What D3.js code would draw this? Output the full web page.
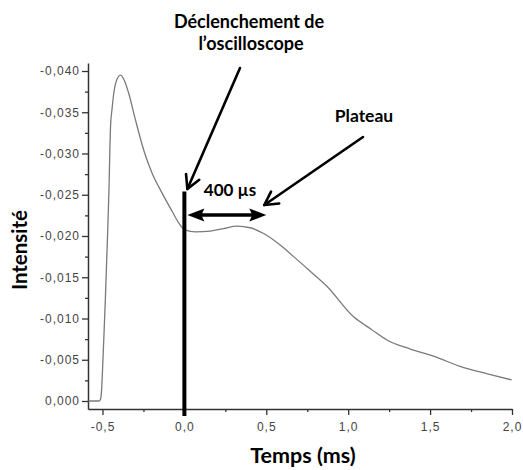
<!DOCTYPE html>
<html>
<head>
<meta charset="utf-8">
<script src="https://cdn.jsdelivr.net/npm/d3@7"></script>
<style>
  html, body { margin: 0; padding: 0; background: #fff; }
  svg { display: block; }
  .tick text { font-family: "Liberation Sans", Arial, sans-serif; }
</style>
</head>
<body>
<svg id="chart" width="523" height="470"></svg>
<script>
// ---- Data ----
const time = [-0.585, -0.52, -0.512, -0.505, -0.498, -0.49, -0.482, -0.468, -0.461, -0.451, -0.441, -0.431, -0.415, -0.39, -0.365, -0.34, -0.299, -0.248, -0.197, -0.136, -0.075, -0.035, 0.006, 0.067, 0.159, 0.24, 0.32, 0.402, 0.484, 0.585, 0.667, 0.77, 0.87, 1.033, 1.14, 1.236, 1.38, 1.52, 1.683, 1.85, 1.998];
const intensity = [0, 0, -0.0002, -0.0015, -0.0046, -0.0085, -0.0126, -0.0207, -0.0252, -0.0332, -0.0355, -0.0373, -0.0388, -0.0395, -0.0388, -0.0373, -0.0341, -0.0304, -0.0276, -0.0252, -0.0230, -0.0216, -0.0207, -0.0205, -0.0206, -0.0209, -0.0212, -0.0210, -0.0203, -0.0189, -0.0175, -0.0157, -0.0139, -0.0102, -0.0087, -0.0074, -0.0063, -0.00545, -0.0042, -0.0033, -0.00255];
const yTicks = [0, -0.005, -0.010, -0.015, -0.020, -0.025, -0.030, -0.035, -0.040];
const yMinorTicks = [-0.0025, -0.0075, -0.0125, -0.0175, -0.0225, -0.0275, -0.0325, -0.0375];
const xTicks = [-0.5, 0.0, 0.5, 1.0, 1.5, 2.0];
const xMinorTicks = [-0.25, 0.25, 0.75, 1.25, 1.75];
const triggerTime = 0.0;
const plateauEnd = 0.5;
const xTitle = "Temps (ms)";
const yTitle = "Intensité";
const triggerLabel = ["Déclenchement de", "l’oscilloscope"];
const plateauLabel = "Plateau";
const durationLabel = "400 µs";

// ---- Setup ----
const svg = d3.select("#chart");
const x = d3.scaleLinear().domain([-0.5884, 2.0]).range([88, 512]);
const y = d3.scaleLinear().domain([0.00097, -0.04097]).range([409, 63]);

const loc = d3.formatLocale({decimal: ",", thousands: ".", grouping: [3], currency: ["", ""], minus: "-"});
const fy = loc.format(".3f");
const fx = loc.format(".1f");

const axisColor = "#333";
const labelColor = "#444";

// Y axis
const gy = svg.append("g").attr("transform", `translate(${x.range()[0]},0)`)
  .call(d3.axisLeft(y).tickValues(yTicks).tickFormat(fy).tickSize(6).tickPadding(2).tickSizeOuter(0));
gy.select(".domain").attr("stroke", axisColor).attr("stroke-width", 1.5);
gy.selectAll(".tick line").attr("stroke", axisColor).attr("stroke-width", 1.3);
gy.selectAll(".tick text").attr("fill", labelColor).attr("font-size", 12).attr("letter-spacing", "1px");
const gym = svg.append("g").attr("transform", `translate(${x.range()[0]},0)`)
  .call(d3.axisLeft(y).tickValues(yMinorTicks).tickFormat("").tickSize(3).tickSizeOuter(0));
gym.select(".domain").remove();
gym.selectAll(".tick line").attr("stroke", axisColor).attr("stroke-width", 1.3);

// X axis
const gx = svg.append("g").attr("transform", `translate(0,${y.range()[0]})`)
  .call(d3.axisBottom(x).tickValues(xTicks).tickFormat(fx).tickSize(6).tickPadding(7).tickSizeOuter(0));
gx.select(".domain").attr("stroke", axisColor).attr("stroke-width", 1.5);
gx.selectAll(".tick line").attr("stroke", axisColor).attr("stroke-width", 1.3);
gx.selectAll(".tick text").attr("fill", labelColor).attr("font-size", 12).attr("letter-spacing", "1px");
const gxm = svg.append("g").attr("transform", `translate(0,${y.range()[0]})`)
  .call(d3.axisBottom(x).tickValues(xMinorTicks).tickFormat("").tickSize(3).tickSizeOuter(0));
gxm.select(".domain").remove();
gxm.selectAll(".tick line").attr("stroke", axisColor).attr("stroke-width", 1.3);

// Curve
const data = time.map((t, i) => ({t, v: intensity[i]}));
const line = d3.line().x(d => x(d.t)).y(d => y(d.v)).curve(d3.curveMonotoneX);
svg.append("path").datum(data).attr("d", line)
  .attr("fill", "none").attr("stroke", "#7a7a7a").attr("stroke-width", 1.3);

// Trigger bar
svg.append("line")
  .attr("x1", x(triggerTime)).attr("x2", x(triggerTime))
  .attr("y1", y(-0.0254)).attr("y2", 416)
  .attr("stroke", "#000").attr("stroke-width", 4);

// Double arrow (400 µs)
const ay = y(-0.02255);
const ax1 = x(triggerTime) + 3, ax2 = x(plateauEnd);
svg.append("line").attr("x1", ax1 + 8).attr("x2", ax2 - 8).attr("y1", ay).attr("y2", ay)
  .attr("stroke", "#000").attr("stroke-width", 3.5);
function head(tipX, dir) {
  const L = 17, W = 6.5, N = 3;
  return `M${tipX},${ay} L${tipX + dir * L},${ay - W} L${tipX + dir * (L - N)},${ay} L${tipX + dir * L},${ay + W} Z`;
}
svg.append("path").attr("d", head(ax1, 1)).attr("fill", "#000");
svg.append("path").attr("d", head(ax2, -1)).attr("fill", "#000");

// Open-headed arrows
function openArrow(x0, y0, x1, y1) {
  const g = svg.append("g").attr("stroke", "#000").attr("stroke-width", 2.6).attr("fill", "none")
    .attr("stroke-linecap", "round").attr("stroke-linejoin", "round");
  g.append("line").attr("x1", x0).attr("y1", y0).attr("x2", x1).attr("y2", y1);
  const a = Math.atan2(y1 - y0, x1 - x0);
  const L = 15, sp = 0.5;
  const p1 = [x1 - L * Math.cos(a - sp), y1 - L * Math.sin(a - sp)];
  const p2 = [x1 - L * Math.cos(a + sp), y1 - L * Math.sin(a + sp)];
  g.append("path").attr("d", `M${p1[0]},${p1[1]} L${x1},${y1} L${p2[0]},${p2[1]}`);
}
openArrow(240, 68, x(triggerTime) + 3, 189);
openArrow(363, 137, x(plateauEnd) - 2, 205);

// Annotation texts
const bold = {family: "Lato, 'Open Sans', sans-serif", weight: 700};
function label(tx, ty, size, str) {
  svg.append("text").attr("x", tx).attr("y", ty).attr("text-anchor", "middle")
    .attr("font-family", bold.family).attr("font-weight", bold.weight).attr("font-size", size)
    .attr("fill", "#000").text(str);
}
label(249, 28, 18, triggerLabel[0]);
label(251, 50, 18, triggerLabel[1]);
label(364, 122, 17.5, plateauLabel);
label(230, 196, 17, durationLabel);

// Axis titles
label(303, 463, 21.5, xTitle);
svg.append("text").attr("transform", "translate(27,250) rotate(-90)").attr("text-anchor", "middle")
  .attr("font-family", bold.family).attr("font-weight", bold.weight).attr("font-size", 20.5)
  .text(yTitle);
</script>
</body>
</html>
